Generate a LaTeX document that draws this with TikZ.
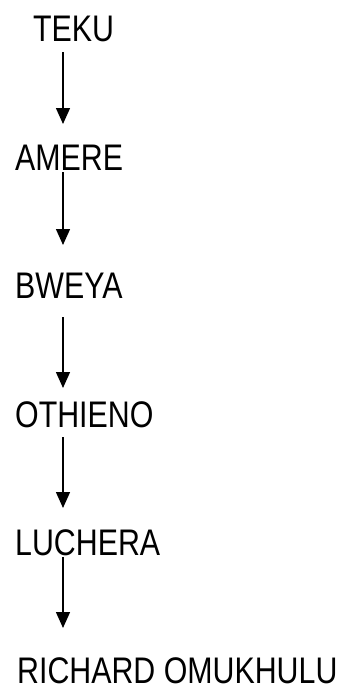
\documentclass[tikz,border=0pt]{standalone}
\usepackage{fontspec}
\setmainfont[FakeStretch=0.82]{Liberation Sans}
\usetikzlibrary{arrows.meta}
\begin{document}
\begin{tikzpicture}[x=1pt,y=-1pt,
  person/.style={anchor=base west,inner sep=0pt,font=\fontsize{37}{40}\selectfont},
  arr/.style={line width=1.4pt,-{Triangle[length=16pt,width=14pt]}}]
\useasboundingbox (0,0) rectangle (343,691);
\coordinate (ax) at (63,0);
\node[person] (teku) at (33,41) {TEKU};
\node[person] (amere) at (15,170) {AMERE};
\node[person] (bweya) at (15,298) {BWEYA};
\node[person] (othieno) at (15,427) {OTHIENO};
\node[person] (luchera) at (15,555) {LUCHERA};
\node[person] (richard) at (17,683) {RICHARD OMUKHULU};
\draw[arr] ([yshift=-11pt]teku.base -| ax) -- ([yshift=46pt]amere.base -| ax);
\draw[arr] ([yshift=-2pt]amere.base -| ax) -- ([yshift=53pt]bweya.base -| ax);
\draw[arr] ([yshift=-19pt]bweya.base -| ax) -- ([yshift=39pt]othieno.base -| ax);
\draw[arr] ([yshift=-10pt]othieno.base -| ax) -- ([yshift=47pt]luchera.base -| ax);
\draw[arr] ([yshift=-2pt]luchera.base -| ax) -- ([yshift=55pt]richard.base -| ax);
\end{tikzpicture}
\end{document}
